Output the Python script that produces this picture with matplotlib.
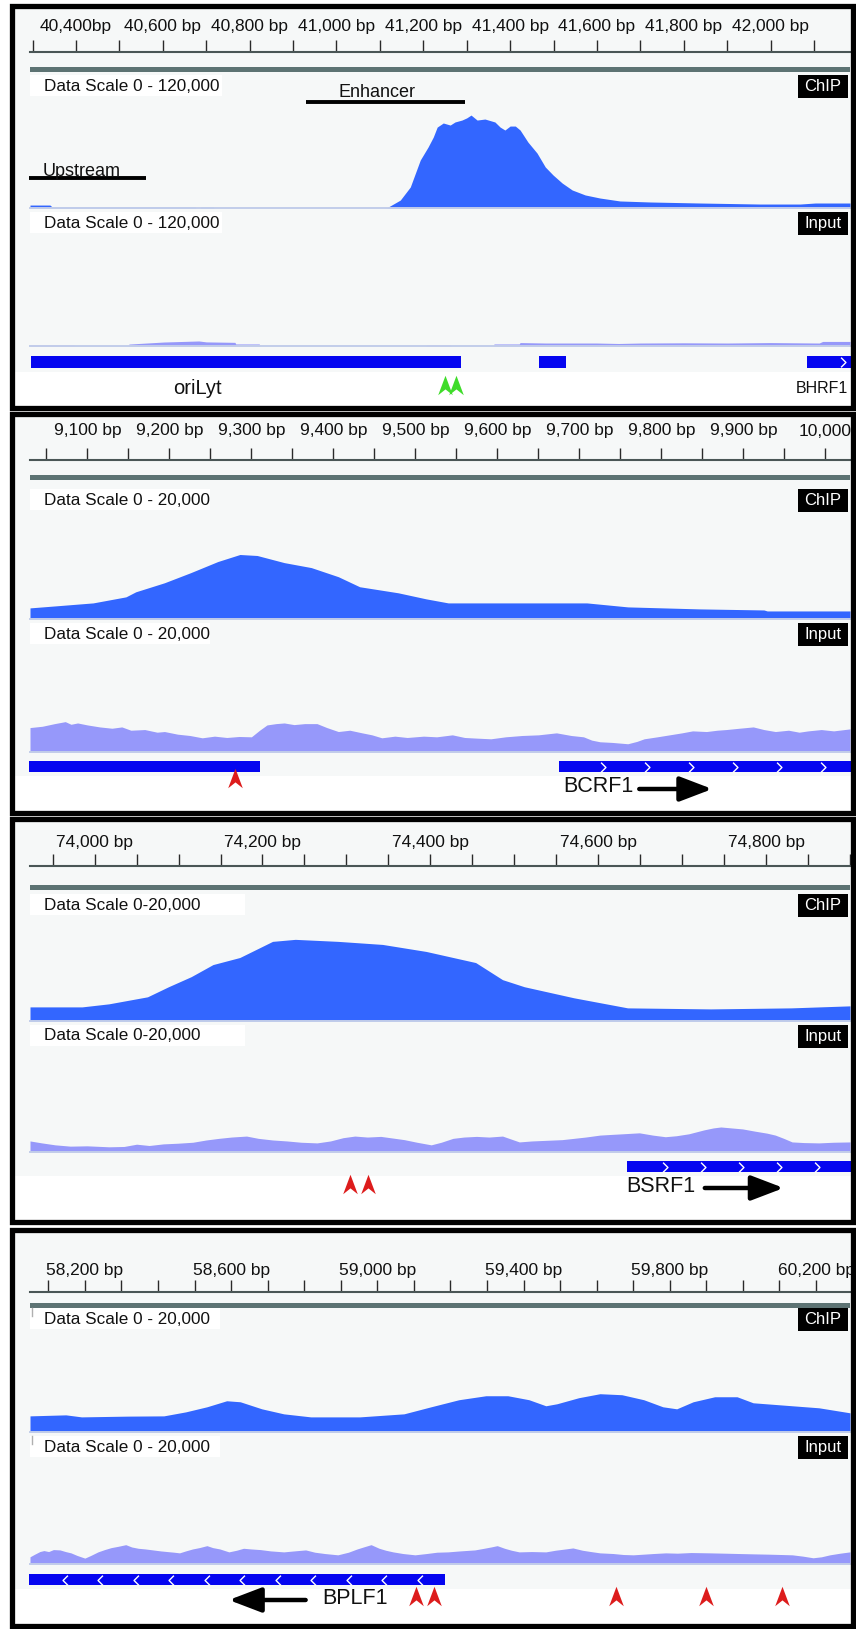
## Libraries:
import numpy as np
import matplotlib.pyplot as plt
from matplotlib.patches import Rectangle
from matplotlib.path import Path

plt.rcParams['font.family'] = ['Liberation Sans', 'DejaVu Sans']
SANS = ['Liberation Sans', 'DejaVu Sans']

W, H, DPI = 856, 1629, 100

## Data:
# panel 1 (EBV oriLyt region)
p1_locus = (40294, 42183)
p1_major = [40400, 40600, 40800, 41000, 41200, 41400, 41600, 41800, 42000]
p1_labels = ['40,400bp', '40,600 bp', '40,800 bp', '41,000 bp', '41,200 bp',
             '41,400 bp', '41,600 bp', '41,800 bp', '42,000 bp']
p1_minor = [40300, 40500, 40700, 40900, 41100, 41300, 41500, 41700, 41900, 42100]
p1_scale = 120000
p1_scale_text = 'Data Scale 0 - 120,000'
p1_chip_bp = [40294, 40340, 40345, 40674, 40676, 40686, 40688, 40716, 40718, 41110,
              41117, 41147, 41170, 41193, 41211, 41223, 41232, 41246, 41262, 41273,
              41289, 41300, 41310, 41324, 41342, 41365, 41377, 41388, 41400, 41412,
              41423, 41441, 41462, 41481, 41499, 41520, 41543, 41573, 41607, 41653,
              41723, 41838, 41976, 42068, 42103, 42183]
p1_chip_val = [2600, 2600, 900, 900, 0, 0, 900, 900, 0, 0,
               400, 7000, 18500, 42300, 53800, 62600, 71400, 75000, 73200, 75900,
               77600, 79500, 82000, 77600, 78500, 75900, 71400, 68800, 72300, 72300,
               68800, 58200, 48500, 36200, 29100, 22000, 15900, 11500, 8800, 6200,
               5300, 4400, 3500, 3500, 4400, 4400]
p1_inp_bp = [40294, 40395, 40397, 40520, 40522, 40603, 40683, 40700, 40766, 40768,
             40822, 40824, 41206, 41208, 41262, 41264, 41361, 41363, 41421, 41423,
             41483, 41600, 41650, 41700, 41800, 41900, 42000, 42112, 42120, 42183]
p1_inp_val = [900, 900, 300, 300, 1700, 3500, 4400, 3600, 3200, 1800,
              1800, 0, 0, 900, 900, 0, 0, 1800, 1800, 3000,
              2600, 2600, 2200, 2600, 2800, 2600, 3000, 2600, 4000, 4000]
p1_genes = [(40296, 41287, ''), (41467, 41529, ''), (42084, 42190, '+')]
p1_names = [('oriLyt', 40679, None, 'center'), ('BHRF1', 42178, None, 'right')]
p1_sites = [41250, 41276]
p1_regions = [('Enhancer', 40930, 41296, 'center'), ('Upstream', 40292, 40561, 'left')]

# panel 2 (BCRF1)
p2_locus = (9030, 10030)
p2_major = [9100, 9200, 9300, 9400, 9500, 9600, 9700, 9800, 9900, 10000]
p2_labels = ['9,100 bp', '9,200 bp', '9,300 bp', '9,400 bp', '9,500 bp',
             '9,600 bp', '9,700 bp', '9,800 bp', '9,900 bp', '10,000']
p2_minor = [9050, 9150, 9250, 9350, 9450, 9550, 9650, 9750, 9850, 9950]
p2_scale = 20000
p2_scale_text = 'Data Scale 0 - 20,000'
p2_chip_bp = [9030, 9061, 9107, 9147, 9159, 9194, 9226, 9259, 9286, 9307, 9340, 9373,
              9406, 9432, 9479, 9513, 9540, 9592, 9709, 9759, 9846, 9925, 9929, 10030]
p2_chip_val = [1670, 1970, 2420, 3330, 4090, 5450, 6970, 8640, 9700, 9550, 8480, 7730,
               6360, 4850, 3940, 3030, 2420, 2420, 2420, 1820, 1520, 1360, 1210, 1210]
p2_inp_bp = [9030, 9045, 9060, 9073, 9080, 9088, 9100, 9115, 9130, 9142, 9153, 9170,
             9185, 9194, 9210, 9225, 9240, 9255, 9270, 9285, 9300, 9310, 9319, 9330,
             9340, 9352, 9365, 9380, 9392, 9406, 9420, 9435, 9447, 9459, 9475, 9490,
             9510, 9526, 9545, 9560, 9575, 9592, 9610, 9630, 9650, 9672, 9690, 9705,
             9715, 9725, 9740, 9759, 9770, 9779, 9795, 9810, 9825, 9838, 9855, 9868,
             9879, 9895, 9912, 9925, 9939, 9955, 9968, 9979, 9995, 10010, 10030]
p2_inp_val = [3700, 3900, 4300, 4600, 4200, 4400, 4100, 3800, 3600, 3800, 3300, 3400,
              3000, 3100, 2700, 2500, 2150, 2400, 2200, 2350, 2300, 3300, 4100, 4300,
              4400, 4150, 4300, 4300, 3700, 3100, 3300, 2900, 2600, 2150, 2400, 2200,
              2400, 2300, 2600, 2200, 2100, 2000, 2300, 2500, 2600, 2900, 2500, 2300,
              1800, 1550, 1450, 1250, 1600, 2000, 2300, 2600, 2900, 3200, 3100, 3300,
              3400, 3600, 3800, 3400, 3100, 3300, 3000, 3200, 3400, 3200, 3500]
p2_genes = [(9029, 9311, ''), (9675, 10032, '+')]
p2_names = [('BCRF1', 9723, (9773, 9862), 'center')]
p2_sites = [9280]

# panel 3 (BSRF1)
p3_locus = (73923, 74900)
p3_major = [74000, 74200, 74400, 74600, 74800]
p3_labels = ['74,000 bp', '74,200 bp', '74,400 bp', '74,600 bp', '74,800 bp']
p3_minor = [73950, 74050, 74100, 74150, 74250, 74300, 74350, 74450, 74500, 74550,
            74650, 74700, 74750, 74850, 74900]
p3_scale = 20000
p3_scale_text = 'Data Scale 0-20,000'
p3_chip_bp = [73923, 73985, 74017, 74063, 74088, 74115, 74141, 74173, 74212, 74239,
              74290, 74343, 74395, 74454, 74486, 74512, 74571, 74635, 74734, 74830, 74900]
p3_chip_val = [2170, 2170, 2640, 3720, 5270, 6820, 8680, 9770, 12250, 12560,
               12250, 11780, 10700, 8990, 6360, 5270, 3570, 2020, 1860, 2020, 2330]
p3_inp_bp = [73923, 73937, 73953, 73971, 73991, 74017, 74035, 74050, 74065, 74082,
             74099, 74117, 74133, 74148, 74163, 74181, 74195, 74212, 74229, 74246,
             74265, 74281, 74296, 74310, 74325, 74341, 74355, 74369, 74384, 74401,
             74413, 74427, 74440, 74455, 74470, 74486, 74496, 74506, 74521, 74539,
             74557, 74571, 74585, 74602, 74615, 74629, 74649, 74665, 74680, 74693,
             74708, 74726, 74737, 74746, 74759, 74772, 74787, 74801, 74811, 74821,
             74831, 74845, 74863, 74880, 74900]
p3_inp_val = [1700, 1400, 1100, 900, 950, 800, 850, 1200, 1000, 1250,
              1350, 1500, 1850, 2100, 2300, 2450, 2100, 1850, 1700, 1500,
              1400, 1700, 2200, 2450, 2300, 2400, 2150, 1900, 1500, 1100,
              1500, 2100, 2300, 2400, 2300, 2450, 2000, 1550, 1700, 1800,
              1900, 2100, 2300, 2600, 2700, 2800, 2950, 2600, 2350, 2500,
              2800, 3400, 3700, 3850, 3700, 3550, 3200, 2900, 2600, 2100,
              1550, 1450, 1400, 1500, 1550]
p3_genes = [(74634, 74902, '+')]
p3_names = [('BSRF1', 74674, (74727, 74821), 'center')]
p3_sites = [74304, 74326]

# panel 4 (BPLF1)
p4_locus = (58050, 60293)
p4_major = [58200, 58600, 59000, 59400, 59800, 60200]
p4_labels = ['58,200 bp', '58,600 bp', '59,000 bp', '59,400 bp', '59,800 bp', '60,200 bp']
p4_minor = [58100, 58300, 58400, 58500, 58700, 58800, 58900, 59100, 59200, 59300,
            59500, 59600, 59700, 59900, 60000, 60100]
p4_scale = 20000
p4_scale_text = 'Data Scale 0 - 20,000'
p4_chip_bp = [58050, 58148, 58191, 58318, 58416, 58476, 58534, 58588, 58625, 58684,
              58744, 58818, 58952, 59073, 59147, 59223, 59297, 59357, 59415, 59461,
              59491, 59551, 59609, 59669, 59729, 59781, 59819, 59864, 59923, 59984,
              60028, 60135, 60208, 60293]
p4_chip_val = [2540, 2700, 2380, 2500, 2540, 3170, 3970, 4920, 4760, 3650,
               2860, 2380, 2380, 2860, 3970, 5080, 5710, 5710, 5080, 4130,
               4440, 5400, 6030, 5870, 5080, 3970, 3650, 4760, 5550, 5550,
               4600, 4130, 3810, 3020]
p4_inp_bp = [58050, 58063, 58077, 58088, 58101, 58114, 58132, 58147, 58162, 58179,
             58200, 58216, 58236, 58254, 58272, 58291, 58312, 58328, 58346, 58365,
             58386, 58407, 58425, 58444, 58459, 58476, 58495, 58513, 58534, 58550,
             58569, 58594, 58615, 58634, 58654, 58680, 58708, 58744, 58773, 58804,
             58829, 58856, 58892, 58921, 58945, 58968, 58983, 59005, 59023, 59043,
             59070, 59103, 59135, 59163, 59193, 59227, 59267, 59292, 59311, 59328,
             59348, 59367, 59388, 59422, 59461, 59487, 59515, 59535, 59561, 59584,
             59609, 59645, 59673, 59700, 59728, 59756, 59789, 59821, 59858, 59910,
             59951, 59988, 60028, 60071, 60104, 60135, 60164, 60192, 60215, 60238,
             60266, 60293]
p4_inp_val = [1100, 1500, 1900, 2050, 1900, 2200, 2150, 1900, 1700, 1300,
              900, 1300, 1850, 2200, 2500, 2700, 2950, 2600, 2400, 2300,
              2150, 2000, 1900, 1800, 1700, 2000, 2300, 2500, 2800, 2500,
              2300, 1850, 2100, 2400, 2300, 2200, 2000, 1850, 2000, 2150,
              1800, 1600, 1400, 1800, 2300, 2700, 2950, 2400, 2100, 1850,
              1600, 1400, 1600, 1800, 1850, 2000, 2150, 2400, 2600, 2800,
              2400, 2100, 1850, 1900, 1850, 2100, 2300, 2450, 2100, 1900,
              1700, 1600, 1450, 1400, 1500, 1600, 1700, 1650, 1750, 1700,
              1650, 1600, 1550, 1500, 1450, 1400, 1200, 950, 1100, 1400,
              1650, 1850]
p4_genes = [(58048, 59185, '-')]
p4_names = [('BPLF1', 58939, (58804, 58594), 'center')]
p4_sites = [59106, 59155, 59653, 59899, 60107]

## Layout (figure pixels, y from top):
layout = [
    dict(top=5.5, bottom=408, label_y=25, axis_y=52, grey=(67, 72), chip=(72, 208), inp=(209, 346),
         gene=(356, 368), ann=(370, 404), site_y=385, name_y=388, name_size=[14.5, 11.5],
         site_color='#3fdc2a', chev_px=36, box_w=192),
    dict(top=414, bottom=813, label_y=429, axis_y=460, grey=(475, 480), chip=(486, 619), inp=(620, 752),
         gene=(761, 772), ann=(774, 809), site_y=778, name_y=787, name_size=[15.5],
         site_color='#dd1c1c', chev_px=44, box_w=180),
    dict(top=819, bottom=1221.5, label_y=840, axis_y=866, grey=(885, 890), chip=(891, 1021), inp=(1022, 1152),
         gene=(1161, 1172), ann=(1174, 1217), site_y=1184, name_y=1186, name_size=[15.5],
         site_color='#dd1c1c', chev_px=38, box_w=215),
    dict(top=1229.5, bottom=1626, label_y=1268, axis_y=1292, grey=(1303, 1308), chip=(1305, 1432), inp=(1433, 1564),
         gene=(1574, 1585), ann=(1587, 1622), site_y=1596, name_y=1598, name_size=[15.5],
         site_color='#dd1c1c', chev_px=35.5, box_w=190),
]

panels = [
    dict(locus=p1_locus, major=p1_major, labels=p1_labels, minor=p1_minor, scale=p1_scale,
         scale_text=p1_scale_text, chip=(p1_chip_bp, p1_chip_val), inp=(p1_inp_bp, p1_inp_val),
         genes=p1_genes, names=p1_names, sites=p1_sites),
    dict(locus=p2_locus, major=p2_major, labels=p2_labels, minor=p2_minor, scale=p2_scale,
         scale_text=p2_scale_text, chip=(p2_chip_bp, p2_chip_val), inp=(p2_inp_bp, p2_inp_val),
         genes=p2_genes, names=p2_names, sites=p2_sites),
    dict(locus=p3_locus, major=p3_major, labels=p3_labels, minor=p3_minor, scale=p3_scale,
         scale_text=p3_scale_text, chip=(p3_chip_bp, p3_chip_val), inp=(p3_inp_bp, p3_inp_val),
         genes=p3_genes, names=p3_names, sites=p3_sites),
    dict(locus=p4_locus, major=p4_major, labels=p4_labels, minor=p4_minor, scale=p4_scale,
         scale_text=p4_scale_text, chip=(p4_chip_bp, p4_chip_val), inp=(p4_inp_bp, p4_inp_val),
         genes=p4_genes, names=p4_names, sites=p4_sites),
]

CHIP_COLOR = '#3366ff'
INPUT_COLOR = '#9698fa'
GENE_COLOR = '#0505f0'
PANEL_BG = '#f6f8f8'
X0, X1 = 30, 850   # track area in pixels

fig = plt.figure(figsize=(W / DPI, H / DPI), dpi=DPI)
fig.patch.set_facecolor('white')


def px_axes(x0, y0, x1, y1):
    ax = fig.add_axes([x0 / W, 1 - y1 / H, (x1 - x0) / W, (y1 - y0) / H])
    ax.patch.set_visible(False)
    for s in ax.spines.values():
        s.set_visible(False)
    ax.set_xticks([])
    ax.set_yticks([])
    return ax


bg_ax = px_axes(0, 0, W, H)
bg_ax.set_xlim(0, W)
bg_ax.set_ylim(H, 0)
bg_ax.set_zorder(-5)

top_ax = px_axes(0, 0, W, H)
top_ax.set_xlim(0, W)
top_ax.set_ylim(H, 0)
top_ax.set_zorder(5)

# notched arrowhead marker and gene chevrons
head = Path([(0, 1), (0.75, -1), (0, -0.4), (-0.75, -1), (0, 1)],
            [Path.MOVETO, Path.LINETO, Path.LINETO, Path.LINETO, Path.CLOSEPOLY])
chev_r = Path([(-0.5, 1), (0.5, 0), (-0.5, -1)], [Path.MOVETO, Path.LINETO, Path.LINETO])
chev_l = Path([(0.5, 1), (-0.5, 0), (0.5, -1)], [Path.MOVETO, Path.LINETO, Path.LINETO])


def track(y0, y1, locus, bp, vals, scale, color):
    ax = px_axes(X0, y0, X1, y1)
    ax.fill_between(bp, 0, vals, color=color, lw=0)
    ax.axhline(0, color='#c2cdea', lw=1.4, clip_on=False)
    ax.set_xlim(*locus)
    ax.set_ylim(0, scale)
    return ax


for i, (p, L) in enumerate(zip(panels, layout)):
    lo, hi = p['locus']
    px_per_bp = (X1 - X0) / (hi - lo)

    # panel background and frame
    bg_ax.add_patch(Rectangle((14, L['top'] + 2), 838, L['gene'][1] + 4 - L['top'] - 2,
                              color=PANEL_BG, lw=0))
    bg_ax.add_patch(Rectangle((X0, L['grey'][0]), X1 - X0, L['grey'][1] - L['grey'][0],
                              color='#5d7373', lw=0))
    top_ax.add_patch(Rectangle((12.5, L['top']), 840.5, L['bottom'] - L['top'],
                               fill=False, ec='black', lw=3.8))

    # ruler
    rax = px_axes(X0, L['axis_y'] - 12, X1, L['axis_y'])
    rax.spines['bottom'].set_visible(True)
    rax.spines['bottom'].set_linewidth(1.5)
    rax.spines['bottom'].set_color('#4a5656')
    rax.set_xlim(lo, hi)
    rax.set_xticks(p['major'], labels=p['labels'])
    rax.set_xticks(p['minor'], minor=True)
    pad = ((L['axis_y'] - 12) - L['label_y'] - 9.5) * 0.72
    rax.tick_params(axis='x', which='both', direction='in', length=8.6, width=1.0, color='#2a2a2a',
                    bottom=True, top=False, labelbottom=False, labeltop=True)
    rax.tick_params(axis='x', which='major', pad=pad, labelsize=12.5, labelcolor='#111111')

    # ChIP and Input tracks
    c0, c1 = L['chip']
    n0, n1 = L['inp']
    cax = track(c0, c1, p['locus'], p['chip'][0], p['chip'][1], p['scale'], CHIP_COLOR)
    track(n0, n1, p['locus'], p['inp'][0], p['inp'][1], p['scale'], INPUT_COLOR)

    for ty, tag in [(c0, 'ChIP'), (n0, 'Input')]:
        top_ax.add_patch(Rectangle((X0, ty + 3), L['box_w'], 21, color='white', lw=0))
        top_ax.text(44, ty + 14, p['scale_text'], fontsize=12.3, ha='left', va='center', color='#111111')
        top_ax.add_patch(Rectangle((798, ty + 3), 50, 23, color='black', lw=0))
        top_ax.text(823, ty + 14.5, tag, fontsize=12, color='white', ha='center', va='center')
        if i == 3:
            top_ax.plot([32, 32], [ty + 3, ty + 11], color='#b0b0b0', lw=1)

    if i == 0:
        for name, start, end, align in p1_regions:
            if align == 'center':
                line_y, text_y, tx = 0.779, 0.816, (start + end) / 2 - 20
            else:
                line_y, text_y, tx = 0.217, 0.235, start + 30
            cax.plot([start, end], [line_y, line_y], color='black', lw=2.8,
                     transform=cax.get_xaxis_transform(), solid_capstyle='butt', clip_on=False)
            cax.text(tx, text_y, name, transform=cax.get_xaxis_transform(), ha=align,
                     va='baseline', fontsize=13, color='#111111')

    # gene row
    g0, g1 = L['gene']
    gax = px_axes(X0, g0, X1, g1)
    gax.set_xlim(lo, hi)
    gax.set_ylim(0, 1)
    step = L['chev_px'] / px_per_bp
    for start, end, strand in p['genes']:
        gax.broken_barh([(start, end - start)], (0, 1), color=GENE_COLOR, lw=0, clip_on=False)
        if strand:
            pos = np.arange(start + step, end - step * 0.15, step)
            gax.plot(pos, [0.5] * len(pos), ls='none', marker=chev_r if strand == '+' else chev_l,
                     ms=7, mfc='none', mec='white', mew=1.0, clip_on=False)

    # annotation row: sites, gene names, direction arrows
    a0, a1 = L['ann']
    aax = px_axes(X0, a0, X1, a1)
    aax.set_xlim(lo, hi)
    aax.set_ylim(a1, a0)
    aax.plot(p['sites'], [L['site_y']] * len(p['sites']), ls='none', marker=head, ms=14,
             color=L['site_color'], mec='none', clip_on=False)
    for k, (name, x, arrow, align) in enumerate(p['names']):
        aax.text(x, L['name_y'], name, ha=align, va='center', fontsize=L['name_size'][k],
                 family=SANS, color='#111111', clip_on=False)
        if arrow:
            aax.annotate('', xy=(arrow[1], L['name_y'] + 2), xytext=(arrow[0], L['name_y'] + 2),
                         arrowprops=dict(arrowstyle='-|>,head_length=1.1,head_width=0.42',
                                         lw=3.2, color='black', shrinkA=0, shrinkB=0,
                                         mutation_scale=18))

fig.savefig('out.png', dpi=DPI)
